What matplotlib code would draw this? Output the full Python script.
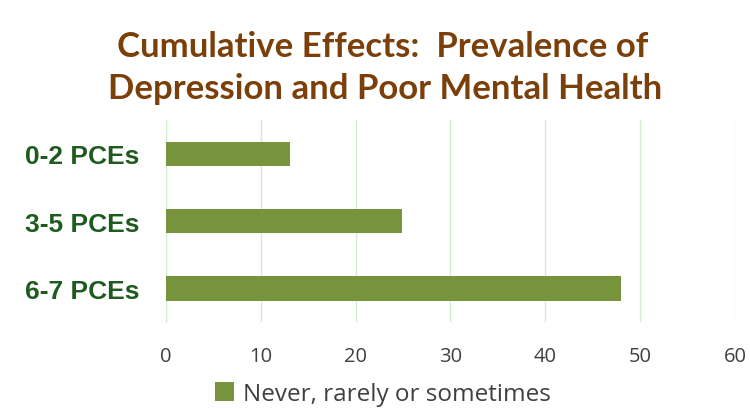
import matplotlib.pyplot as plt
from matplotlib.patches import Patch

categories = ["0-2 PCEs", "3-5 PCEs", "6-7 PCEs"]
values = [13.1, 24.9, 48.0]
series_name = "Never, rarely or sometimes"
xticks = [0, 10, 20, 30, 40, 50, 60]

bar_color = "#77933c"
title_color = "#7b3f0a"
label_color = "#1e5b1e"

fig = plt.figure(figsize=(7.5, 4.1), dpi=100)
ax = fig.add_axes([0.2213, 0.212, 0.7587, 0.493])

ypos = list(range(len(categories)))
ax.barh(ypos, values, height=0.36, color=bar_color, zorder=3)
ax.set_ylim(len(categories) - 0.5, -0.5)
ax.set_xlim(0, 60)
ax.set_xticks(xticks)
ax.set_yticks(ypos)
ax.set_yticklabels(categories, fontfamily="Liberation Sans", fontweight="bold",
                   fontsize=19, color=label_color)
ax.tick_params(axis="y", length=0, pad=19)
ax.tick_params(axis="x", length=0, pad=17, labelsize=14.5, labelcolor="#404040")
for lab in ax.get_xticklabels():
    lab.set_fontfamily("Open Sans")

ax.grid(axis="x", color="#d6ecd2", linewidth=1, zorder=0)
for s in ["top", "right", "bottom"]:
    ax.spines[s].set_visible(False)
ax.spines["left"].set_color("#d6ecd2")

fig.text(0.51, 0.886, "Cumulative Effects:  Prevalence of", ha="center", va="center",
         fontsize=25, fontweight="bold", fontfamily="Lato", color=title_color)
fig.text(0.513, 0.784, "Depression and Poor Mental Health", ha="center", va="center",
         fontsize=25, fontweight="bold", fontfamily="Lato", color=title_color)

handle = Patch(facecolor=bar_color, label=series_name)
leg = fig.legend(handles=[handle], loc="center", bbox_to_anchor=(0.51, 0.037),
                 frameon=False, handlelength=0.8, handleheight=0.8, handletextpad=0.35,
                 prop={"family": "Open Sans", "size": 17.5})
for t in leg.get_texts():
    t.set_color("#404040")

fig.savefig("out.png", dpi=100)
